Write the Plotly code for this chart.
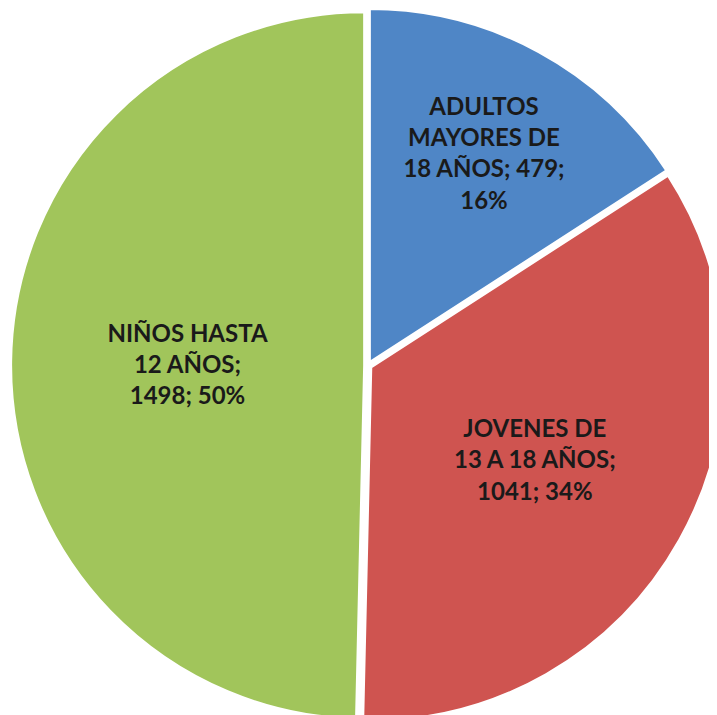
import plotly.graph_objects as go

labels = ["ADULTOS<br>MAYORES DE<br>18 AÑOS", "JOVENES DE<br>13 A 18 AÑOS", "NIÑOS HASTA<br>12 AÑOS"]
values = [479, 1041, 1498]
colors = ["#4F86C6", "#CF5450", "#A1C55B"]
templates = [
    "%{label}; %{value};<br>%{percent:.0%}",
    "%{label};<br>%{value}; %{percent:.0%}",
    "%{label};<br>%{value}; %{percent:.0%}",
]

fig = go.Figure(go.Pie(
    labels=labels,
    values=values,
    sort=False,
    direction="clockwise",
    rotation=0,
    marker=dict(colors=colors, line=dict(color="white", width=2.5)),
    pull=[0.01, 0.01, 0.01],
    texttemplate=templates,
    textposition="inside",
    insidetextorientation="horizontal",
    textfont=dict(family="Lato", size=24, color="#1a1a1a", weight="bold"),
    showlegend=False,
    hoverinfo="label+value+percent",
    domain=dict(x=[0.004, 1.0], y=[0.0, 1.0]),
))

fig.update_layout(
    width=717, height=715,
    margin=dict(l=0, r=0, t=0, b=0),
    paper_bgcolor="white",
    plot_bgcolor="white",
    uniformtext=dict(minsize=24, mode="show"),
)

fig.write_html("out.html")
